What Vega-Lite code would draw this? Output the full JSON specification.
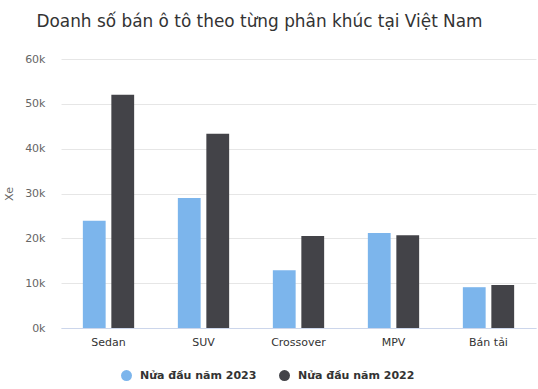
{
  "$schema": "https://vega.github.io/schema/vega-lite/v6.json",
  "autosize": {"type": "none"},
  "width": 475,
  "height": 269,
  "padding": {"left": 61, "top": 59, "right": 2, "bottom": 61},
  "background": "white",
  "config": {"view": {"stroke": null}, "font": "DejaVu Sans"},
  "title": {
    "text": "Doanh số bán ô tô theo từng phân khúc tại Việt Nam",
    "fontSize": 16.9,
    "fontWeight": "normal",
    "color": "#333333",
    "anchor": "middle",
    "dx": -39,
    "offset": 22,
    "font": "DejaVu Sans"
  },
  "data": {
    "values": [
      {"segment": "Sedan", "series": "Nửa đầu năm 2023", "value": 23900},
      {"segment": "Sedan", "series": "Nửa đầu năm 2022", "value": 52000},
      {"segment": "SUV", "series": "Nửa đầu năm 2023", "value": 29000},
      {"segment": "SUV", "series": "Nửa đầu năm 2022", "value": 43300},
      {"segment": "Crossover", "series": "Nửa đầu năm 2023", "value": 12900},
      {"segment": "Crossover", "series": "Nửa đầu năm 2022", "value": 20500},
      {"segment": "MPV", "series": "Nửa đầu năm 2023", "value": 21200},
      {"segment": "MPV", "series": "Nửa đầu năm 2022", "value": 20700},
      {"segment": "Bán tải", "series": "Nửa đầu năm 2023", "value": 9100},
      {"segment": "Bán tải", "series": "Nửa đầu năm 2022", "value": 9600}
    ]
  },
  "mark": {"type": "bar"},
  "encoding": {
    "x": {
      "field": "segment",
      "type": "nominal",
      "sort": ["Sedan", "SUV", "Crossover", "MPV", "Bán tải"],
      "scale": {"paddingInner": 0.4, "paddingOuter": 0.2},
      "axis": {
        "title": null,
        "labelAngle": 0,
        "labelColor": "#333333",
        "labelFontSize": 11,
        "labelPadding": 8,
        "ticks": false,
        "domainColor": "#ccd6eb",
        "grid": false
      }
    },
    "xOffset": {
      "field": "series",
      "type": "nominal",
      "sort": ["Nửa đầu năm 2023", "Nửa đầu năm 2022"],
      "scale": {"paddingInner": 0.2, "paddingOuter": 0.1}
    },
    "y": {
      "field": "value",
      "type": "quantitative",
      "scale": {"domain": [0, 60000], "nice": false},
      "axis": {
        "title": "Xe",
        "titleFontSize": 11,
        "titleFontWeight": "normal",
        "titleColor": "#666666",
        "titlePadding": 10,
        "values": [0, 10000, 20000, 30000, 40000, 50000, 60000],
        "format": "~s",
        "labelColor": "#666666",
        "labelFontSize": 11,
        "labelPadding": 16,
        "ticks": false,
        "domain": false,
        "gridColor": "#e6e6e6"
      }
    },
    "color": {
      "field": "series",
      "type": "nominal",
      "sort": ["Nửa đầu năm 2023", "Nửa đầu năm 2022"],
      "scale": {"domain": ["Nửa đầu năm 2023", "Nửa đầu năm 2022"], "range": ["#7cb5ec", "#434348"]},
      "legend": {
        "title": null,
        "orient": "none",
        "direction": "horizontal",
        "legendX": 60,
        "legendY": 311,
        "symbolType": "circle",
        "symbolSize": 120,
        "symbolStrokeWidth": 0,
        "labelFontSize": 11,
        "labelFontWeight": "bold",
        "labelColor": "#333333",
        "labelOffset": 8,
        "columnPadding": 22,
        "labelLimit": 300
      }
    }
  }
}
